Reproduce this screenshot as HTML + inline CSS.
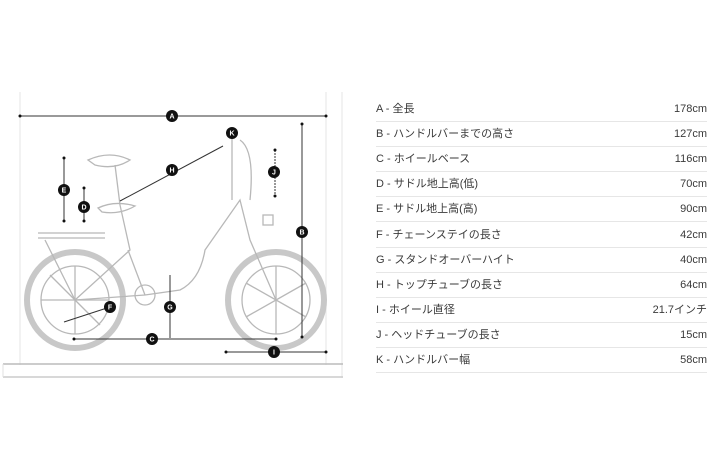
<!DOCTYPE html>
<html><head><meta charset="utf-8"><style>
body{margin:0;background:#fff;width:710px;height:474px;overflow:hidden;font-family:"Liberation Sans","Noto Sans CJK JP",sans-serif}
.row{position:absolute;left:376px;width:331px;height:25px;font-size:11px;color:#3a3a3a}
.row span{position:absolute;top:0;line-height:14px;height:14px;white-space:nowrap}
.row .r{right:0}
.row:after{content:"";position:absolute;left:0;right:0;top:19px;border-bottom:1px solid #e6e6e6}
</style></head><body>
<svg width="710" height="474" style="position:absolute;left:0;top:0" font-family="Liberation Sans,sans-serif">
<g stroke="#e4e4e4" fill="none">
<line x1="20" y1="92" x2="20" y2="365"/><line x1="326" y1="92" x2="326" y2="365"/><line x1="342" y1="92" x2="342" y2="378"/>
</g>
<line x1="3" y1="364" x2="343" y2="364" stroke="#bbb" stroke-width="1.5"/>
<line x1="3" y1="377" x2="343" y2="377" stroke="#ccc" stroke-width="1.5"/>
<line x1="3" y1="364" x2="3" y2="377" stroke="#e0e0e0"/>
<g stroke="#b8b8b8" fill="none" stroke-width="1.3">
<circle cx="75" cy="300" r="48" stroke="#c8c8c8" stroke-width="6"/>
<circle cx="75" cy="300" r="34"/>
<circle cx="276" cy="300" r="48" stroke="#c8c8c8" stroke-width="6"/>
<circle cx="276" cy="300" r="34"/>
<line x1="276" y1="266" x2="276" y2="334"/><line x1="246" y1="283" x2="306" y2="317"/><line x1="246" y1="317" x2="306" y2="283"/>
<line x1="75" y1="266" x2="75" y2="334"/><line x1="41" y1="300" x2="109" y2="300"/><line x1="50" y1="275" x2="100" y2="325"/>
<circle cx="145" cy="295" r="10"/>
<path d="M75 300 L145 295 L180 290 Q200 280 205 250 L240 200 L250 240 L276 300"/>
<path d="M75 300 L130 250 L120 205"/>
<path d="M128 250 L145 295"/>
<path d="M38 233 L105 233 M38 238 L105 238 M45 240 L75 300"/>
<path d="M232 133 L232 200 M240 140 Q255 150 250 200"/>
<path d="M88 160 Q110 150 130 160 Q115 170 95 165 Z"/>
<path d="M98 208 Q115 200 135 206 Q120 215 102 212 Z"/>
<line x1="115" y1="165" x2="120" y2="205"/>
<rect x="263" y="215" width="10" height="10"/>
</g>
<g stroke="#333" stroke-width="1" fill="#111">
<line x1="20" y1="116" x2="326" y2="116"/>
<line x1="302" y1="124" x2="302" y2="337"/>
<line x1="275" y1="150" x2="275" y2="196" stroke-dasharray="2 1"/>
<line x1="120" y1="201" x2="223" y2="146"/>
<line x1="64" y1="158" x2="64" y2="221"/>
<line x1="84" y1="188" x2="84" y2="221"/>
<line x1="170" y1="275" x2="170" y2="338"/>
<line x1="64" y1="322" x2="110" y2="307"/>
<line x1="74" y1="339" x2="276" y2="339"/>
<line x1="226" y1="352" x2="326" y2="352"/>
<g stroke="none">
<circle cx="20" cy="116" r="1.5"/><circle cx="326" cy="116" r="1.5"/><circle cx="302" cy="124" r="1.5"/><circle cx="302" cy="337" r="1.5"/>
<circle cx="64" cy="158" r="1.5"/><circle cx="64" cy="221" r="1.5"/><circle cx="84" cy="188" r="1.5"/><circle cx="84" cy="221" r="1.5"/>
<circle cx="74" cy="339" r="1.5"/><circle cx="276" cy="339" r="1.5"/><circle cx="226" cy="352" r="1.5"/><circle cx="326" cy="352" r="1.5"/>
<circle cx="275" cy="150" r="1.5"/><circle cx="275" cy="196" r="1.5"/>
</g>
</g>
<g font-size="7" font-weight="bold" fill="#fff" text-anchor="middle">
<g fill="#111"><circle cx="172" cy="116" r="6"/><circle cx="302" cy="232" r="6"/><circle cx="232" cy="133" r="6"/><circle cx="274" cy="172" r="6"/><circle cx="172" cy="170" r="6"/><circle cx="64" cy="190" r="6"/><circle cx="84" cy="207" r="6"/><circle cx="170" cy="307" r="6"/><circle cx="110" cy="307" r="6"/><circle cx="152" cy="339" r="6"/><circle cx="274" cy="352" r="6"/></g>
<text x="172" y="118.5">A</text><text x="302" y="234.5">B</text><text x="232" y="135.5">K</text><text x="274" y="174.5">J</text><text x="172" y="172.5">H</text><text x="64" y="192.5">E</text><text x="84" y="209.5">D</text><text x="170" y="309.5">G</text><text x="110" y="309.5">F</text><text x="152" y="341.5">C</text><text x="274" y="354.5">I</text>
</g>
</svg>
<div class="row" style="top:102px"><span>A - 全長</span><span class="r">178cm</span></div>
<div class="row" style="top:127px"><span>B - ハンドルバーまでの高さ</span><span class="r">127cm</span></div>
<div class="row" style="top:152px"><span>C - ホイールベース</span><span class="r">116cm</span></div>
<div class="row" style="top:177px"><span>D - サドル地上高(低)</span><span class="r">70cm</span></div>
<div class="row" style="top:202px"><span>E - サドル地上高(高)</span><span class="r">90cm</span></div>
<div class="row" style="top:228px"><span>F - チェーンステイの長さ</span><span class="r">42cm</span></div>
<div class="row" style="top:253px"><span>G - スタンドオーバーハイト</span><span class="r">40cm</span></div>
<div class="row" style="top:278px"><span>H - トップチューブの長さ</span><span class="r">64cm</span></div>
<div class="row" style="top:303px"><span>I - ホイール直径</span><span class="r">21.7インチ</span></div>
<div class="row" style="top:328px"><span>J - ヘッドチューブの長さ</span><span class="r">15cm</span></div>
<div class="row" style="top:353px"><span>K - ハンドルバー幅</span><span class="r">58cm</span></div>
</body></html>
